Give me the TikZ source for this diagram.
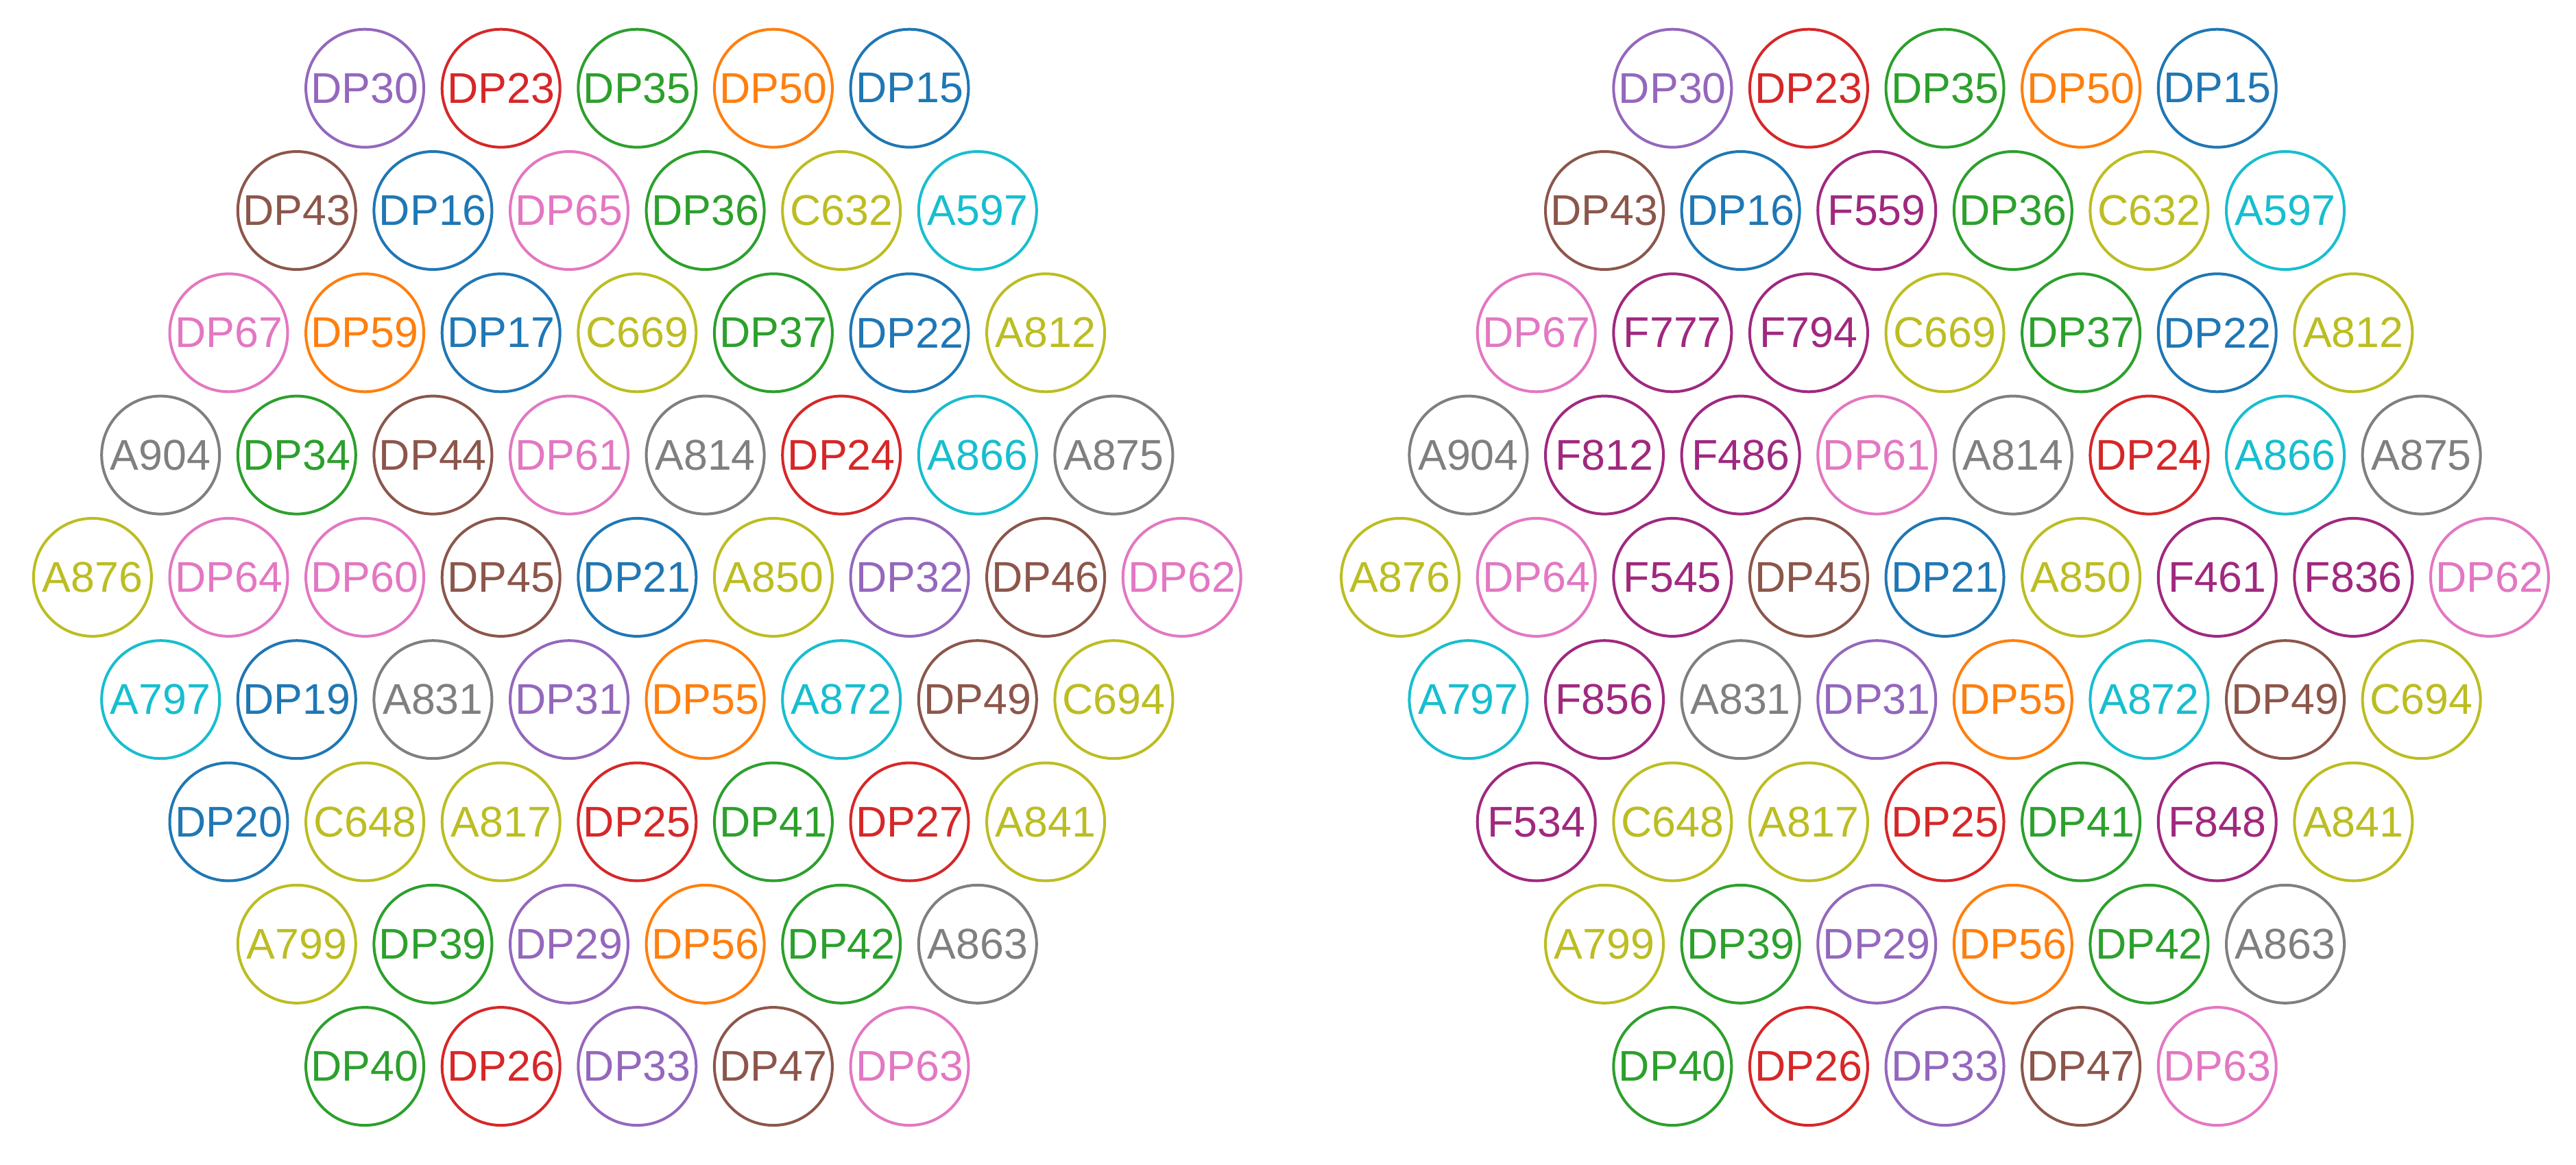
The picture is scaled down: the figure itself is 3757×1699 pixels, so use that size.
\documentclass[tikz,border=0pt]{standalone}
\usepackage{fontspec}
\setmainfont{Liberation Sans}
\definecolor{tblue}{HTML}{1F77B4}
\definecolor{torange}{HTML}{FF7F0E}
\definecolor{tgreen}{HTML}{2CA02C}
\definecolor{tred}{HTML}{D62728}
\definecolor{tpurple}{HTML}{9467BD}
\definecolor{tbrown}{HTML}{8C564B}
\definecolor{tpink}{HTML}{E377C2}
\definecolor{tgray}{HTML}{7F7F7F}
\definecolor{tolive}{HTML}{BCBD22}
\definecolor{tcyan}{HTML}{17BECF}
\definecolor{tmag}{HTML}{A0287F}
\begin{document}
\begin{tikzpicture}[x=1pt,y=-1pt,
  dot/.style={circle, draw=#1, text=#1, line width=4pt, minimum size=172pt, inner sep=0pt,
              font=\fontsize{62.7}{70}\selectfont}]
\useasboundingbox (0,0) rectangle (3757,1699);
% left hexagon
\foreach \r/\n/\items in {
 0/5/{DP30/tpurple,DP23/tred,DP35/tgreen,DP50/torange,DP15/tblue},
 1/6/{DP43/tbrown,DP16/tblue,DP65/tpink,DP36/tgreen,C632/tolive,A597/tcyan},
 2/7/{DP67/tpink,DP59/torange,DP17/tblue,C669/tolive,DP37/tgreen,DP22/tblue,A812/tolive},
 3/8/{A904/tgray,DP34/tgreen,DP44/tbrown,DP61/tpink,A814/tgray,DP24/tred,A866/tcyan,A875/tgray},
 4/9/{A876/tolive,DP64/tpink,DP60/tpink,DP45/tbrown,DP21/tblue,A850/tolive,DP32/tpurple,DP46/tbrown,DP62/tpink},
 5/8/{A797/tcyan,DP19/tblue,A831/tgray,DP31/tpurple,DP55/torange,A872/tcyan,DP49/tbrown,C694/tolive},
 6/7/{DP20/tblue,C648/tolive,A817/tolive,DP25/tred,DP41/tgreen,DP27/tred,A841/tolive},
 7/6/{A799/tolive,DP39/tgreen,DP29/tpurple,DP56/torange,DP42/tgreen,A863/tgray},
 8/5/{DP40/tgreen,DP26/tred,DP33/tpurple,DP47/tbrown,DP63/tpink}}{
  \foreach \lab/\col [count=\k from 0] in \items {
    \node[dot=\col] (L\r-\k) at ({929.3+(\k-(\n-1)/2)*198.6},{128.7+\r*178.3}) {\lab};
  }
}
% right hexagon
\foreach \r/\n/\items in {
 0/5/{DP30/tpurple,DP23/tred,DP35/tgreen,DP50/torange,DP15/tblue},
 1/6/{DP43/tbrown,DP16/tblue,F559/tmag,DP36/tgreen,C632/tolive,A597/tcyan},
 2/7/{DP67/tpink,F777/tmag,F794/tmag,C669/tolive,DP37/tgreen,DP22/tblue,A812/tolive},
 3/8/{A904/tgray,F812/tmag,F486/tmag,DP61/tpink,A814/tgray,DP24/tred,A866/tcyan,A875/tgray},
 4/9/{A876/tolive,DP64/tpink,F545/tmag,DP45/tbrown,DP21/tblue,A850/tolive,F461/tmag,F836/tmag,DP62/tpink},
 5/8/{A797/tcyan,F856/tmag,A831/tgray,DP31/tpurple,DP55/torange,A872/tcyan,DP49/tbrown,C694/tolive},
 6/7/{F534/tmag,C648/tolive,A817/tolive,DP25/tred,DP41/tgreen,F848/tmag,A841/tolive},
 7/6/{A799/tolive,DP39/tgreen,DP29/tpurple,DP56/torange,DP42/tgreen,A863/tgray},
 8/5/{DP40/tgreen,DP26/tred,DP33/tpurple,DP47/tbrown,DP63/tpink}}{
  \foreach \lab/\col [count=\k from 0] in \items {
    \node[dot=\col] (R\r-\k) at ({2836.5+(\k-(\n-1)/2)*198.6},{128.7+\r*178.3}) {\lab};
  }
}
\end{tikzpicture}
\end{document}
